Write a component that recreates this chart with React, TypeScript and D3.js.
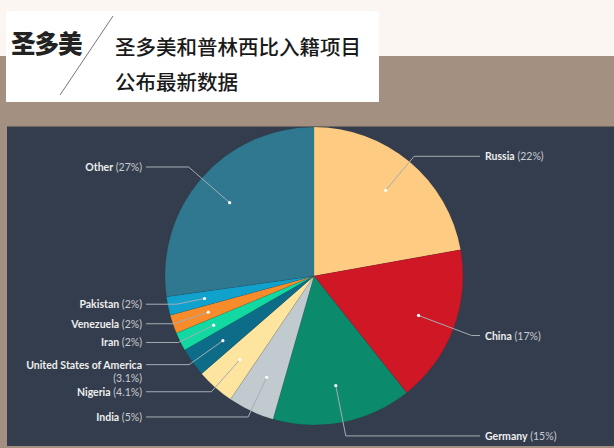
import React from "react";
import * as d3 from "d3";

const categories = ["Russia", "China", "Germany", "India", "Nigeria", "United States of America", "Iran", "Venezuela", "Pakistan", "Other"];
const shares = [22, 17, 15, 5, 4.1, 3.1, 2, 2, 2, 27];
const shareLabels = ["22%", "17%", "15%", "5%", "4.1%", "3.1%", "2%", "2%", "2%", "27%"];
const colors = ["#fecb82", "#cf1726", "#0c8a6c", "#c1cbcf", "#fde5a0", "#0d6d88", "#12d8a2", "#f98c2a", "#11a1cd", "#2f7890"];

const titleMain = "圣多美";
const titleLine1 = "圣多美和普林西比入籍项目";
const titleLine2 = "公布最新数据";

export default function App() {
  const W = 614, H = 448;
  const cx = 314, cy = 276, r = 149;
  const data = categories.map((c, i) => ({ name: c, value: shares[i], label: shareLabels[i], color: colors[i] }));
  const pie = d3.pie<any>().sort(null).value((d: any) => d.value);
  const arcs = pie(data);
  const arc = d3.arc<any>().innerRadius(0).outerRadius(r);
  const dotArc = d3.arc<any>().innerRadius(r * 0.75).outerRadius(r * 0.75);
  const outerArc = d3.arc<any>().innerRadius(160).outerRadius(160);

  const leftX = 142, rightX = 485;

  return (
    <svg width={W} height={H} style={{ position: "absolute", left: 0, top: 0 }}>
      <rect x={0} y={0} width={W} height={56} fill="#fbf6f1" />
      <rect x={0} y={56} width={W} height={H - 56} fill="#a39080" />
      <rect x={6} y={11} width={373} height={91} fill="#ffffff" />
      <text x={11} y={53} fontFamily="'Noto Sans CJK SC'" fontWeight={900} fontSize={24.5} fill="#222" letterSpacing={-1}>{titleMain}</text>
      <line x1={113} y1={16} x2={60} y2={95} stroke="#777" strokeWidth={1} />
      <text x={115} y={46} dominantBaseline="central" fontFamily="'Noto Sans CJK SC'" fontWeight={500} fontSize={20.5} fill="#1a1a1a">{titleLine1}</text>
      <text x={115} y={81} dominantBaseline="central" fontFamily="'Noto Sans CJK SC'" fontWeight={500} fontSize={20.5} fill="#1a1a1a">{titleLine2}</text>

      <rect x={7} y={126} width={W - 7} height={320} fill="#333d4d" />
      <line x1={7} y1={126.5} x2={W} y2={126.5} stroke="#6b6660" strokeWidth={1} />

      <g transform={`translate(${cx},${cy})`}>
        {arcs.map((a, i) => (
          <path key={i} d={arc(a) as string} fill={a.data.color} stroke="rgba(0,0,0,0.15)" strokeWidth={0.5} />
        ))}
      </g>

      {arcs.map((a, i) => {
        const mid = (a.startAngle + a.endAngle) / 2;
        const [dx, dy] = dotArc.centroid(a);
        const [, oy] = outerArc.centroid(a);
        const px = cx + dx, py = cy + dy;
        const dirX = Math.sin(mid), dirY = -Math.cos(mid);
        const right = dirX > 0;
        const ly = cy + oy + (right ? 3 : -4);
        let t = Math.abs(dirY) > 0.05 ? (ly - py) / dirY : 40;
        if (t < 0) t = 0;
        const ex = px + dirX * t;
        const tx = right ? rightX : leftX;
        const lineEnd = right ? rightX - 5 : leftX + 4;
        const isUSA = a.data.name === "United States of America";
        return (
          <g key={"l" + i}>
            <polyline points={`${px},${py} ${ex},${ly} ${lineEnd},${ly}`} fill="none" stroke="#a6acb5" strokeWidth={1} />
            <circle cx={px} cy={py} r={1.6} fill="#ffffff" />
            {isUSA ? (
              <text x={tx} y={ly} textAnchor="end" dominantBaseline="central" fontFamily="Lato" fontSize={10.5} fill="#eeeeee">
                <tspan fontWeight={700}>{a.data.name}</tspan>
                <tspan x={tx} dy={13} fill="#c9ccd1">({a.data.label})</tspan>
              </text>
            ) : (
              <text x={tx} y={ly} textAnchor={right ? "start" : "end"} dominantBaseline="central" fontFamily="Lato" fontSize={10.5} fill="#eeeeee">
                <tspan fontWeight={700}>{a.data.name}</tspan>
                <tspan fill="#c9ccd1"> ({a.data.label})</tspan>
              </text>
            )}
          </g>
        );
      })}
    </svg>
  );
}
